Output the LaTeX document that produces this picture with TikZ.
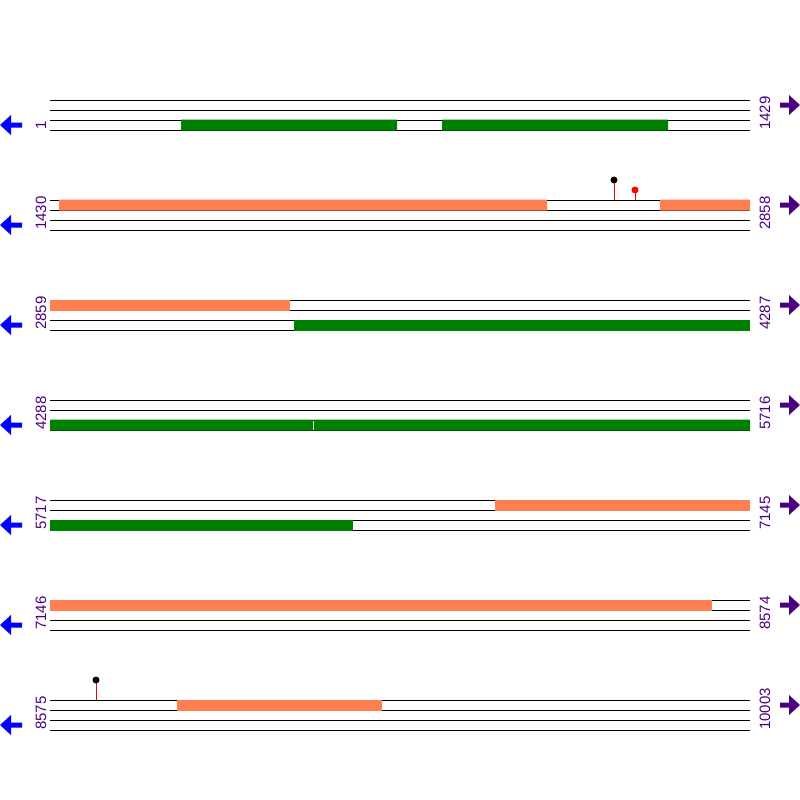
\documentclass[tikz,border=0pt]{standalone}
\usepackage{fontspec}
\setmainfont{Liberation Sans}
\usetikzlibrary{positioning}
\definecolor{seqpurple}{RGB}{75,0,130}
\definecolor{featorange}{RGB}{255,127,80}
\definecolor{featgreen}{RGB}{0,128,0}

\begin{document}
\begin{tikzpicture}[
    x=1pt, y=-1pt,
    strand/.style={black, line width=1pt},
    cds/.style={fill=featgreen},
    rep/.style={fill=featorange},
    stem/.style={red, line width=1pt},
    numlab/.style={font=\fontsize{15}{15}\selectfont, text=seqpurple, rotate=90, anchor=base west, inner sep=0pt},
    backarrow/.style={fill=blue},
    fwdarrow/.style={fill=seqpurple}
]
\useasboundingbox (0,0) rectangle (800,800);

% strands and direction arrows
\foreach \b in {100,200,300,400,500,600,700} {
  \draw[strand] (50,\b) -- (750,\b) (50,\b+10) -- (750,\b+10)
                (50,\b+20) -- (750,\b+20) (50,\b+30) -- (750,\b+30);
  \fill[backarrow] (0,\b+25) -- (11,\b+15) -- (11,\b+22.5) -- (22,\b+22.5)
                   -- (22,\b+27.5) -- (11,\b+27.5) -- (11,\b+35) -- cycle;
  \fill[fwdarrow] (800,\b+5) -- (789,\b-5) -- (789,\b+2.5) -- (780,\b+2.5)
                  -- (780,\b+7.5) -- (789,\b+7.5) -- (789,\b+15) -- cycle;
}

% features
\fill[cds] (181,119.5) rectangle (397,130.5) (442,119.5) rectangle (668,130.5);
\fill[rep] (59,199.5) rectangle (547,210.5) (660,199.5) rectangle (750,210.5);
\fill[rep] (50,299.5) rectangle (290,310.5);
\fill[cds] (294,319.5) rectangle (750,330.5);
\fill[cds] (50,419.5) rectangle (313,430.5) (314,419.5) rectangle (750,430.5);
\fill[rep] (495,499.5) rectangle (750,510.5);
\fill[cds] (50,519.5) rectangle (353,530.5);
\fill[rep] (50,599.5) rectangle (712,610.5);
\fill[rep] (177,699.5) rectangle (382,710.5);

% sites
\draw[stem] (614,200) -- (614,180);
\fill[black] (614,180) circle (3.5pt);
\draw[stem] (635,200) -- (635,190);
\fill[red] (635,190) circle (3.5pt);
\draw[stem] (96,700) -- (96,680);
\fill[black] (96,680) circle (3.5pt);

% positions
\node[numlab] (s1) at (46,130) {1};
\node[numlab] (e1) at (770,130) {1429};
\node[numlab] (s2) at (46,230) {1430};
\node[numlab] (e2) at (770,230) {2858};
\node[numlab] (s3) at (46,330) {2859};
\node[numlab] (e3) at (770,330) {4287};
\node[numlab] (s4) at (46,430) {4288};
\node[numlab] (e4) at (770,430) {5716};
\node[numlab] (s5) at (46,530) {5717};
\node[numlab] (e5) at (770,530) {7145};
\node[numlab] (s6) at (46,630) {7146};
\node[numlab] (e6) at (770,630) {8574};
\node[numlab] (s7) at (46,730) {8575};
\node[numlab] (e7) at (770,730) {10003};

\end{tikzpicture}
\end{document}
